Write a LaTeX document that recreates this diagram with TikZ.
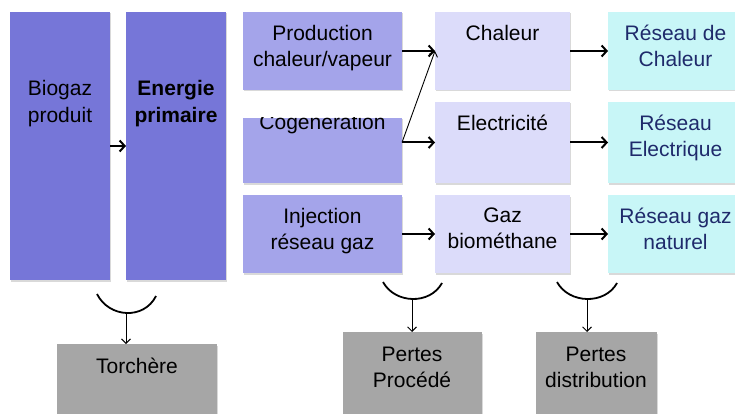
\documentclass[tikz,border=0pt]{standalone}
\usepackage{fontspec}
\setmainfont{Liberation Sans}
\usetikzlibrary{arrows,arrows.meta,calc,positioning,shadows}

\definecolor{primfill}{HTML}{7676D8}
\definecolor{procfill}{HTML}{A4A4EA}
\definecolor{prodfill}{HTML}{DCDCFA}
\definecolor{netfill}{HTML}{C8F6F7}
\definecolor{netink}{HTML}{1F2A6B}
\definecolor{lossfill}{HTML}{A6A6A6}

\begin{document}
\begin{tikzpicture}[auto,>={Straight Barb[length=5pt,width=11pt]},x=1pt,y=-1pt]
	\tikzstyle{block} = [rectangle, inner sep=0pt, outer sep=0pt, drop shadow={shadow xshift=1pt, shadow yshift=-1.5pt, opacity=0.3}]
	\tikzstyle{primbox} = [block, fill=primfill, minimum width=100pt, minimum height=268pt]
	\tikzstyle{procbox} = [block, fill=procfill, minimum width=159pt]
	\tikzstyle{prodbox} = [block, fill=prodfill, minimum width=135pt]
	\tikzstyle{netbox} = [block, fill=netfill, minimum width=135pt]
	\tikzstyle{lossbox} = [block, fill=lossfill, minimum height=90pt]
	\tikzstyle{txt} = [align=center, inner sep=0pt, font=\fontsize{21}{26}\selectfont]
	\tikzstyle{flow} = [->, line width=2pt]
	\tikzstyle{lossflow} = [-{Straight Barb[length=4.5pt,width=9pt]}, line width=0.9pt]
	\tikzstyle{bracket} = [line width=1.8pt]
	
	\path[use as bounding box, clip] (0,0) rectangle (735,414);
	
	% energie primaire
	\node [primbox] (biogaz) at (60,146) {};
	\node [primbox, right = 16pt of biogaz] (energie) {};
	\node [txt, font=\fontsize{21}{27}\selectfont, below = 68pt of biogaz.north] (biogaz-t) {Biogaz\\produit};
	\node [txt, font=\bfseries\fontsize{21}{27}\selectfont, below = 68pt of energie.north] (energie-t) {Energie\\primaire};
	
	% procedes
	\node [procbox, minimum height=78pt] (prod) at (322.5,51) {};
	\node [procbox, minimum height=65pt, below = 28pt of prod, path picture={
		\node [txt, anchor=base] (cogen-t) at ([yshift=-12pt]path picture bounding box.north) {Cogeneration};}] (cogen) {};
	\node [procbox, minimum height=78pt] (inject) at (322.5,234) {};
	\node [txt, below = 13pt of prod.north] (prod-t) {Production\\chaleur/vapeur};
	\node [txt, below = 13pt of inject.north] (inject-t) {Injection\\réseau gaz};
	
	% produits
	\node [prodbox, minimum height=78pt, right = 33pt of prod] (chal) {};
	\node [prodbox, minimum height=81pt, below = 12pt of chal] (elec) {};
	\node [prodbox, minimum height=78pt, right = 33pt of inject] (gaz) {};
	\node [txt, below = 13pt of chal.north] (chal-t) {Chaleur};
	\node [txt, below = 13pt of elec.north] (elec-t) {Electricité};
	\node [txt, below = 13pt of gaz.north] (gaz-t) {Gaz\\biométhane};
	
	% reseaux
	\node [netbox, minimum height=78pt, right = 38pt of chal] (rchal) {};
	\node [netbox, minimum height=81pt, right = 38pt of elec] (relec) {};
	\node [netbox, minimum height=78pt, right = 38pt of gaz] (rgaz) {};
	\node [txt, text=netink, below = 13pt of rchal.north] (rchal-t) {Réseau de\\Chaleur};
	\node [txt, text=netink, below = 13pt of relec.north] (relec-t) {Réseau\\Electrique};
	\node [txt, text=netink, below = 13pt of rgaz.north] (rgaz-t) {Réseau gaz\\naturel};
	
	% pertes
	\node [lossbox, minimum width=160pt, anchor=north] (torch) at (137,344) {};
	\node [lossbox, minimum width=139pt, anchor=north] (ppro) at (412,332) {};
	\node [lossbox, minimum width=121pt, right = 54pt of ppro] (pdis) {};
	\node [txt, below = 14pt of torch.north] (torch-t) {Torchère};
	\node [txt, below = 15pt of ppro.north] (ppro-t) {Pertes\\Procédé};
	\node [txt, below = 15pt of pdis.north] (pdis-t) {Pertes\\distribution};
	
	\draw [flow] (biogaz) -- (energie);
	\draw [flow] (prod) -- (chal);
	\draw [flow] (elec.west -| cogen.east) -- (elec);
	\draw [lossflow] (elec.west -| cogen.east) -- (chal.west);
	\draw [flow] (inject) -- (gaz);
	\draw [flow] (chal) -- (rchal);
	\draw [flow] (elec) -- (relec);
	\draw [flow] (gaz) -- (rgaz);
	
	% accolades des pertes
	\coordinate (torchL) at (97,294);
	\coordinate (torchR) at (156,296);
	\coordinate (torchM) at (126,313);
	\coordinate (pproL) at (383,282);
	\coordinate (pproR) at (442,283);
	\coordinate (pproM) at (412,299);
	\coordinate (pdisL) at (557,282);
	\coordinate (pdisR) at (617,283);
	\coordinate (pdisM) at (587,299);
	\draw [bracket] (torchL) .. controls +(12,24) and +(-12,24) .. (torchR);
	\draw [bracket] (pproL) .. controls +(12,22) and +(-12,22) .. (pproR);
	\draw [bracket] (pdisL) .. controls +(12,22) and +(-12,22) .. (pdisR);
	\draw [lossflow] (torchM) -- (torchM |- torch.north);
	\draw [lossflow] (pproM) -- (pproM |- ppro.north);
	\draw [lossflow] (pdisM) -- (pdisM |- pdis.north);
	
\end{tikzpicture}
\end{document}
